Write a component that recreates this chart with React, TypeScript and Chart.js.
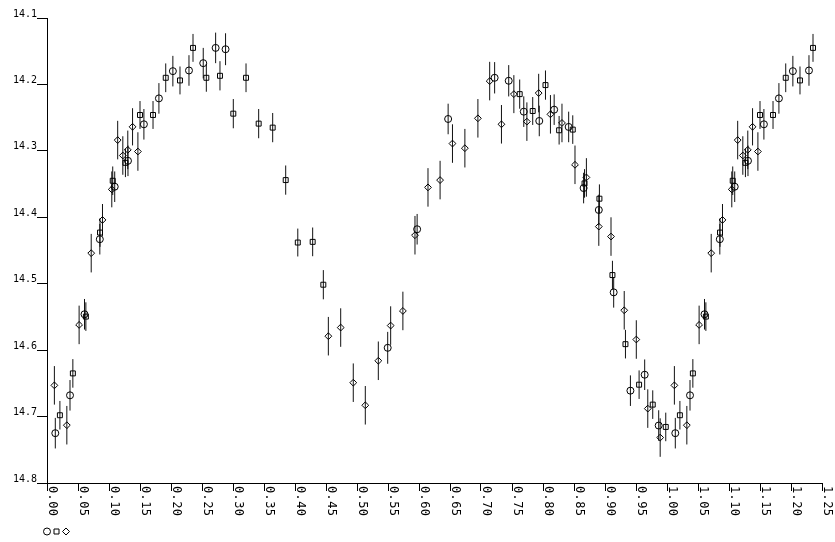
import React, { useEffect, useRef } from 'react';
import { Chart, registerables } from 'chart.js';

Chart.register(...registerables);

const FONT = '"DejaVu Sans Mono", monospace';

// Phase range shown
const X_MIN = 0;
const X_MAX = 1.25;
const Y_MIN = 14.1;
const Y_MAX = 14.8;

const xTickValues = [0, 0.05, 0.1, 0.15, 0.2, 0.25, 0.3, 0.35, 0.4, 0.45, 0.5, 0.55, 0.6, 0.65, 0.7, 0.75, 0.8, 0.85, 0.9, 0.95, 1.0, 1.05, 1.1, 1.15, 1.2, 1.25];
const yTickValues = [14.1, 14.2, 14.3, 14.4, 14.5, 14.6, 14.7, 14.8];

// Series 1 (circles): phase, magnitude, error
const circlePhase = [0.0134, 0.0371, 0.0605, 0.0852, 0.1092, 0.1306, 0.1563, 0.1805, 0.203, 0.229, 0.252, 0.272, 0.288, 0.5495, 0.597, 0.647, 0.722, 0.7447, 0.769, 0.794, 0.818, 0.8414, 0.8655, 0.89, 0.914, 0.941, 0.964, 0.9866];
const circleMag = [14.725, 14.668, 14.546, 14.433, 14.354, 14.315, 14.26, 14.221, 14.18, 14.179, 14.168, 14.145, 14.147, 14.5965, 14.418, 14.252, 14.19, 14.1945, 14.241, 14.255, 14.238, 14.264, 14.356, 14.389, 14.513, 14.661, 14.637, 14.7135];
const circleErr = [0.023, 0.023, 0.023, 0.023, 0.023, 0.023, 0.023, 0.023, 0.023, 0.023, 0.023, 0.023, 0.024, 0.024, 0.023, 0.023, 0.0236, 0.0236, 0.023, 0.023, 0.023, 0.023, 0.023, 0.023, 0.023, 0.023, 0.023, 0.023];

// Series 2 (squares)
const squarePhase = [0.0208, 0.0417, 0.0627, 0.0855, 0.106, 0.1265, 0.15, 0.171, 0.1915, 0.2145, 0.2355, 0.257, 0.279, 0.3005, 0.321, 0.3414, 0.364, 0.385, 0.4045, 0.4285, 0.4457, 0.7624, 0.7834, 0.804, 0.826, 0.848, 0.867, 0.891, 0.912, 0.933, 0.955, 0.977, 0.998];
const squareMag = [14.698, 14.635, 14.5495, 14.423, 14.345, 14.318, 14.246, 14.246, 14.19, 14.194, 14.145, 14.19, 14.187, 14.244, 14.19, 14.259, 14.265, 14.344, 14.438, 14.437, 14.5015, 14.2146, 14.24, 14.201, 14.269, 14.268, 14.349, 14.372, 14.487, 14.591, 14.652, 14.682, 14.7156];
const squareErr = [0.0215, 0.0215, 0.0215, 0.0215, 0.0215, 0.0215, 0.021, 0.021, 0.0216, 0.021, 0.021, 0.021, 0.022, 0.022, 0.0216, 0.022, 0.022, 0.022, 0.021, 0.0216, 0.022, 0.022, 0.021, 0.022, 0.0215, 0.0215, 0.0215, 0.0215, 0.0215, 0.0215, 0.0215, 0.0215, 0.0215];

// Series 3 (diamonds)
const diamondPhase = [0.0119, 0.032, 0.0518, 0.0713, 0.0895, 0.1045, 0.114, 0.1223, 0.1303, 0.138, 0.1466, 0.4538, 0.4737, 0.494, 0.5134, 0.5344, 0.5543, 0.574, 0.5935, 0.6145, 0.634, 0.654, 0.674, 0.695, 0.714, 0.733, 0.753, 0.774, 0.793, 0.812, 0.8306, 0.8516, 0.87, 0.89, 0.9097, 0.931, 0.9505, 0.969, 0.989];
const diamondMag = [14.653, 14.713, 14.562, 14.454, 14.404, 14.358, 14.2838, 14.307, 14.2985, 14.2638, 14.301, 14.579, 14.566, 14.649, 14.683, 14.616, 14.563, 14.541, 14.427, 14.355, 14.344, 14.289, 14.296, 14.251, 14.195, 14.26, 14.2146, 14.256, 14.213, 14.245, 14.258, 14.321, 14.34, 14.414, 14.429, 14.54, 14.584, 14.688, 14.7316];
const diamondErr = [0.029, 0.029, 0.029, 0.029, 0.024, 0.027, 0.029, 0.029, 0.029, 0.028, 0.029, 0.029, 0.029, 0.029, 0.029, 0.029, 0.029, 0.029, 0.029, 0.029, 0.029, 0.029, 0.029, 0.029, 0.029, 0.029, 0.0286, 0.029, 0.029, 0.029, 0.029, 0.029, 0.029, 0.029, 0.029, 0.029, 0.029, 0.029, 0.029];

type Pt = { x: number; y: number; e: number };

// Phase-folded light curve: each observation is also shown one cycle later
function fold(phase: number[], mag: number[], err: number[]): Pt[] {
  const pts: Pt[] = [];
  phase.forEach((p, i) => {
    pts.push({ x: p, y: mag[i], e: err[i] });
    if (p + 1 <= X_MAX) pts.push({ x: p + 1, y: mag[i], e: err[i] });
  });
  return pts;
}

const errorBarPlugin = {
  id: 'errorBars',
  beforeDatasetsDraw(chart: any) {
    const { ctx } = chart;
    const xs = chart.scales.x;
    const ys = chart.scales.y;
    ctx.save();
    ctx.strokeStyle = '#111';
    ctx.lineWidth = 1;
    chart.data.datasets.forEach((ds: any) => {
      ds.data.forEach((p: Pt) => {
        const px = xs.getPixelForValue(p.x);
        ctx.beginPath();
        ctx.moveTo(px, ys.getPixelForValue(p.y - p.e));
        ctx.lineTo(px, ys.getPixelForValue(p.y + p.e));
        ctx.stroke();
      });
    });
    ctx.restore();
  },
};

const xLabelPlugin = {
  id: 'xLabels',
  afterDraw(chart: any) {
    const { ctx } = chart;
    const xs = chart.scales.x;
    ctx.save();
    ctx.font = `12px ${FONT}`;
    ctx.fillStyle = '#000';
    ctx.textAlign = 'left';
    ctx.textBaseline = 'alphabetic';
    xs.ticks.forEach((t: any) => {
      const px = xs.getPixelForValue(t.value);
      const label = Number(t.value).toFixed(2);
      ctx.save();
      ctx.translate(px + 1.5, xs.top + 3);
      ctx.rotate(Math.PI / 2);
      for (let i = 0; i < label.length; i++) ctx.fillText(label[i], i * 7.6, 0);
      ctx.restore();
    });
    ctx.restore();
  },
};

const legendPlugin = {
  id: 'symbolLegend',
  afterDraw(chart: any) {
    const { ctx, chartArea } = chart;
    const cx = chartArea.left;
    const cy = chartArea.bottom + 48.5;
    ctx.save();
    ctx.strokeStyle = '#000';
    ctx.lineWidth = 1;
    // circle
    ctx.beginPath();
    ctx.arc(cx, cy, 3.5, 0, Math.PI * 2);
    ctx.stroke();
    // square
    ctx.beginPath();
    ctx.rect(cx + 9.5 - 2.5, cy - 2.5, 5, 5);
    ctx.stroke();
    // diamond
    const dx = cx + 19;
    ctx.beginPath();
    ctx.moveTo(dx, cy - 3.5);
    ctx.lineTo(dx + 3.5, cy);
    ctx.lineTo(dx, cy + 3.5);
    ctx.lineTo(dx - 3.5, cy);
    ctx.closePath();
    ctx.stroke();
    ctx.restore();
  },
};

export default function App() {
  const canvasRef = useRef<HTMLCanvasElement | null>(null);

  useEffect(() => {
    const canvas = canvasRef.current;
    if (!canvas) return;
    Chart.defaults.font.family = FONT;
    const common = {
      showLine: false,
      borderColor: '#000',
      backgroundColor: 'rgba(0,0,0,0)',
      borderWidth: 1,
      pointBorderColor: '#000',
      pointBackgroundColor: 'rgba(0,0,0,0)',
      pointBorderWidth: 1,
    };
    const chart = new Chart(canvas, {
      type: 'scatter',
      data: {
        datasets: [
          { ...common, label: 'circles', data: fold(circlePhase, circleMag, circleErr), pointStyle: 'circle', pointRadius: 3.5 },
          { ...common, label: 'squares', data: fold(squarePhase, squareMag, squareErr), pointStyle: 'rect', pointRadius: 3.5 },
          { ...common, label: 'diamonds', data: fold(diamondPhase, diamondMag, diamondErr), pointStyle: 'rectRot', pointRadius: 3.4 },
        ],
      } as any,
      options: {
        animation: false,
        responsive: false,
        maintainAspectRatio: false,
        devicePixelRatio: 1,
        layout: { padding: { top: 18, right: 13, left: 0, bottom: 0 } },
        plugins: { legend: { display: false }, tooltip: { enabled: false } },
        events: [],
        scales: {
          x: {
            type: 'linear',
            min: X_MIN,
            max: X_MAX,
            afterBuildTicks: (s: any) => {
              s.ticks = xTickValues.map((v) => ({ value: v }));
            },
            afterFit: (s: any) => {
              s.height = 59;
            },
            ticks: { display: false },
            grid: { drawOnChartArea: false, drawTicks: true, tickLength: 8, color: '#000', lineWidth: 1 },
            border: { display: true, color: '#000', width: 1 },
          },
          y: {
            type: 'linear',
            reverse: true,
            min: Y_MIN,
            max: Y_MAX,
            afterBuildTicks: (s: any) => {
              s.ticks = yTickValues.map((v) => ({ value: v }));
            },
            afterFit: (s: any) => {
              s.width = 47;
            },
            ticks: {
              padding: 0,
              labelOffset: -4,
              color: '#000',
              font: { family: FONT, size: 10 },
              callback: (v: any) => Number(v).toFixed(1),
            },
            grid: { drawOnChartArea: false, drawTicks: true, tickLength: 10, color: '#000', lineWidth: 1 },
            border: { display: true, color: '#000', width: 1 },
          },
        },
      } as any,
      plugins: [errorBarPlugin, xLabelPlugin, legendPlugin],
    });
    return () => chart.destroy();
  }, []);

  return (
    <div style={{ position: 'absolute', left: 0, top: 0, width: 835, height: 542, background: '#fff' }}>
      <canvas ref={canvasRef} width={835} height={542} style={{ display: 'block', width: 835, height: 542 }} />
    </div>
  );
}
